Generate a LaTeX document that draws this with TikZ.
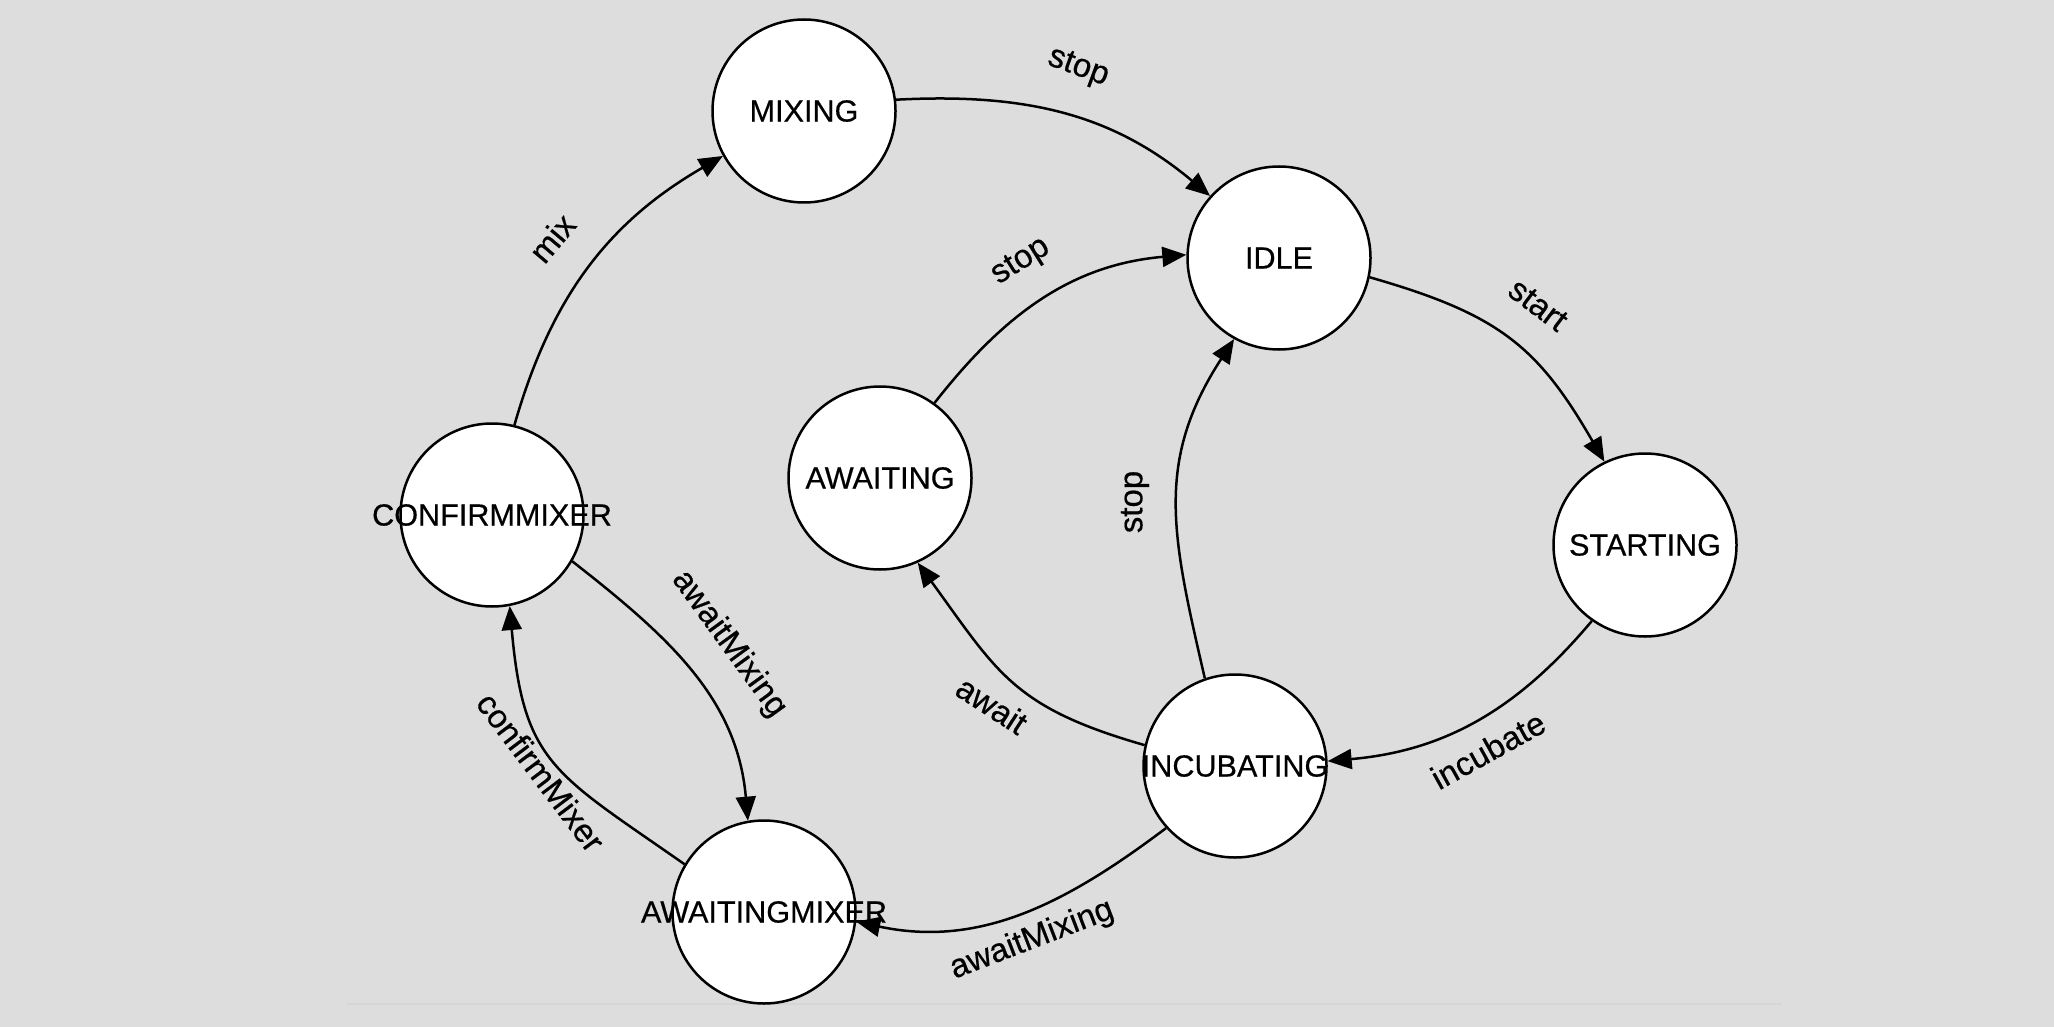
\documentclass[tikz,border=0pt]{standalone}
\usepackage{fontspec}
\setmainfont{Liberation Sans}
\newfontface\heavyface{Liberation Sans}[FakeBold=0.5]
\usetikzlibrary{arrows.meta}
\definecolor{bg}{HTML}{DDDDDD}
\definecolor{faintline}{HTML}{D6D6D6}
\newcommand{\zw}[1]{\makebox[0pt][c]{#1}}
\begin{document}
\begin{tikzpicture}[x=0.5pt,y=0.5pt,
  state/.style={circle, draw=black, fill=white, line width=1.25pt, minimum size=91.5pt, inner sep=0pt, font=\heavyface\fontsize{15.3}{18}\selectfont},
  trans/.style={draw=black, line width=1.25pt, -{Triangle[length=12pt,width=10pt]}},
  lbl/.style={font=\heavyface\fontsize{16.5}{20}\selectfont, inner sep=0pt}]
\fill[bg] (0,0) rectangle (2054,-1027);
\useasboundingbox (0,0) rectangle (2054,-1027);
\draw[faintline, line width=1pt] (347,-1004) -- (1782,-1004);

% states
\node[state] (mix)   at (804,-111) {\zw{MIXING}};
\node[state] (idle)  at (1279,-258) {\zw{IDLE}};
\node[state] (awt)   at (880,-478) {\zw{AWAITING}};
\node[state] (cm)    at (492,-515) {\zw{CONFIRMMIXER}};
\node[state] (start) at (1645,-545) {\zw{STARTING}};
\node[state] (inc)   at (1235,-766) {\zw{INCUBATING}};
\node[state] (awm)   at (764,-912) {\zw{AWAITINGMIXER}};

% transitions
\draw[trans] (cm.76) to[out=74,in=210] (mix.209);
\draw[trans] (mix.7) to[out=3,in=140] (idle.138);
\draw[trans] (awt.54) to[out=52,in=185] (idle.178);
\draw[trans] (idle.-12) to[out=-16,in=120,looseness=1.15] (start.116);
\draw[trans] (start.235) to[out=230,in=5] (inc.3);
\draw[trans] (inc.109) to[out=103,in=237,looseness=1.1] (idle.241);
\draw[trans] (inc.167) to[out=164,in=-54,looseness=1.2] (awt.-66);
\draw[trans] (inc.222) to[out=217,in=-12] (awm.-6);
\draw[trans] (cm.-30) to[out=-38,in=95] (awm.100);
\draw[trans] (awm.149) to[out=145,in=-85,looseness=1.3] (cm.-79);

% labels
\node[lbl, rotate=50]  (lmix)    at (552,-238) {mix};
\node[lbl, rotate=-20] (lstop1)  at (1078,-68) {stop};
\node[lbl, rotate=32]  (lstop2)  at (1021,-262) {stop};
\node[lbl, rotate=-37] (lstart)  at (1538,-305) {start};
\node[lbl, rotate=29]  (linc)    at (1488,-750) {incubate};
\node[lbl, rotate=90]  (lstop3)  at (1135,-502) {stop};
\node[lbl, rotate=-33] (lawait)  at (992,-705) {await};
\node[lbl, rotate=21]  (lam1)    at (1032,-940) {awaitMixing};
\node[lbl, rotate=-54] (lam2)    at (729,-644) {awaitMixing};
\node[lbl, rotate=-53] (lconf)   at (541,-772) {confirmMixer};
\end{tikzpicture}
\end{document}
